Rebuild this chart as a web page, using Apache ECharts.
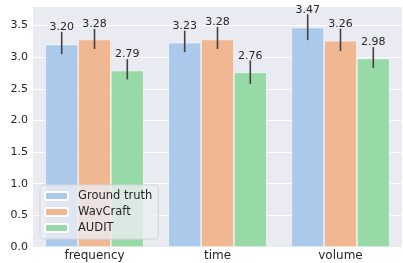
<!DOCTYPE html>
<html>
<head>
<meta charset="utf-8">
<script src="https://cdn.jsdelivr.net/npm/echarts@6/dist/echarts.min.js"></script>
<style>
  html, body { margin: 0; padding: 0; background: #fff; }
  #chart { width: 403px; height: 263px; }
</style>
</head>
<body>
<div id="chart"></div>
<script>
// categories and series
const categories = ["frequency", "time", "volume"];
const seriesNames = ["Ground truth", "WavCraft", "AUDIT"];
const groundTruth = [3.20, 3.23, 3.47];
const wavCraft = [3.28, 3.28, 3.26];
const audit = [2.79, 2.76, 2.98];
// error bar ends (low, high)
const groundTruthErr = [[3.05, 3.40], [3.08, 3.42], [3.27, 3.68]];
const wavCraftErr = [[3.13, 3.45], [3.13, 3.48], [3.10, 3.45]];
const auditErr = [[2.65, 2.97], [2.58, 2.95], [2.83, 3.16]];
const yTicks = [0, 0.5, 1.0, 1.5, 2.0, 2.5, 3.0, 3.5];

const colors = ["#abc9ea", "#efb792", "#98daa7"];
const values = [groundTruth, wavCraft, audit];
const errs = [groundTruthErr, wavCraftErr, auditErr];
const font = "DejaVu Sans";
const textColor = "#262626";

// error bar + value label for each bar
function errorSeries(k) {
  const data = categories.map((c, i) => [i, errs[k][i][0], errs[k][i][1], values[k][i]]);
  return {
    type: "custom",
    z: 10,
    silent: true,
    data: data,
    renderItem: function (params, api) {
      const band = api.size([1, 0])[0];
      const barW = band * 0.8 / 3;
      const off = (k - 1) * barW;
      const lo = api.coord([api.value(0), api.value(1)]);
      const hi = api.coord([api.value(0), api.value(2)]);
      const x = lo[0] + off;
      return {
        type: "group",
        children: [
          {
            type: "line",
            shape: { x1: x, y1: lo[1], x2: x, y2: hi[1] },
            style: { stroke: "#424242", lineWidth: 1.6 }
          },
          {
            type: "text",
            style: {
              text: api.value(3).toFixed(2),
              x: x,
              y: hi[1] + 1,
              align: "center",
              verticalAlign: "bottom",
              fill: textColor,
              font: "11px " + font
            }
          }
        ]
      };
    }
  };
}

let myChart = echarts.init(document.getElementById("chart"));
myChart.setOption({
  animation: false,
  backgroundColor: "#ffffff",
  textStyle: { fontFamily: font },
  grid: { left: 33, right: 1, top: 6, bottom: 16, backgroundColor: "#eaeaf2", show: true, borderWidth: 0 },
  legend: {
    data: seriesNames,
    orient: "vertical",
    left: 40,
    top: 185,
    itemWidth: 23,
    itemHeight: 8,
    itemGap: 4,
    padding: [5, 6, 5, 4],
    backgroundColor: "rgba(236,236,243,0.8)",
    borderColor: "#d4d4dc",
    borderWidth: 1,
    borderRadius: 3,
    textStyle: { fontSize: 11.5, color: textColor, fontFamily: font, padding: [0, 0, 0, 5] }
  },
  xAxis: {
    type: "category",
    data: categories,
    axisLine: { show: false },
    axisTick: { show: false },
    axisLabel: { fontSize: 12, color: textColor, margin: 3 },
    splitLine: { show: false }
  },
  yAxis: {
    type: "value",
    min: 0,
    max: 3.81,
    interval: 0.5,
    axisLine: { show: false },
    axisTick: { show: false },
    axisLabel: {
      fontSize: 11,
      color: textColor,
      margin: 5,
      showMaxLabel: false,
      formatter: v => (yTicks.includes(v) ? v.toFixed(1) : "")
    },
    splitLine: { lineStyle: { color: "#ffffff", width: 1 } }
  },
  series: seriesNames.map((n, k) => ({
    name: n,
    type: "bar",
    data: values[k],
    barGap: "0%",
    barCategoryGap: "20%",
    itemStyle: { color: colors[k], borderColor: "#ffffff", borderWidth: 0.6 }
  })).concat([0, 1, 2].map(errorSeries))
});
</script>
</body>
</html>
